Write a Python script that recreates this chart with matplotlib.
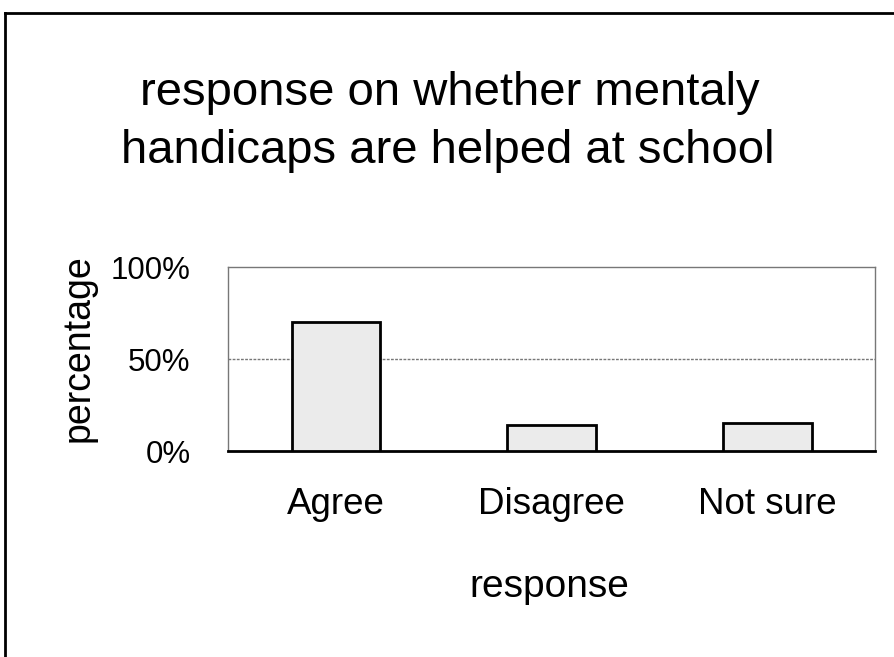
import matplotlib.pyplot as plt
from matplotlib.lines import Line2D
from matplotlib.ticker import PercentFormatter

plt.rcParams['font.family'] = ['Liberation Sans', 'DejaVu Sans']

# данные опроса
categories = ['Agree', 'Disagree', 'Not sure']
percent = [70, 14, 15]
y_ticks = [0, 50, 100]

fig = plt.figure(figsize=(8.94, 6.57), dpi=100)
ax = fig.add_axes([0.255, 0.3135, 0.724, 0.280])

x = range(len(categories))
ax.bar(x, percent, width=0.41, color='#ebebeb', edgecolor='black', linewidth=2, zorder=3)

ax.set_xlim(-0.5, len(categories) - 0.5)
ax.set_ylim(0, 100)
ax.set_yticks(y_ticks)
ax.yaxis.set_major_formatter(PercentFormatter(decimals=0))
ax.set_xticks(list(x))
ax.set_xticklabels(categories)
ax.tick_params(length=0)
ax.tick_params(axis='y', labelsize=22.5, pad=27)
ax.tick_params(axis='x', labelsize=26.5, pad=26)

# линия сетки на 50%
ax.axhline(50, color='#777777', linewidth=1, linestyle=(0, (2, 1)), zorder=1)

for side in ['top', 'right', 'left']:
    ax.spines[side].set_color('#777777')
    ax.spines[side].set_linewidth(1)
ax.spines['bottom'].set_linewidth(2)

ax.set_ylabel('percentage', fontsize=27)
ax.yaxis.set_label_coords(-0.2025, 0.56)
ax.set_xlabel('response', fontsize=28)
ax.xaxis.set_label_coords(0.496, -0.64)

fig.text(0.503, 0.840, 'response on whether mentaly', fontsize=34,
         ha='center', va='baseline')
fig.text(0.501, 0.752, 'handicaps are helped at school', fontsize=34,
         ha='center', va='baseline')

# рамка вокруг диаграммы
fig.add_artist(Line2D([0.006, 1.0], [0.980, 0.980], color='black', linewidth=2))
fig.add_artist(Line2D([0.006, 0.006], [0.0, 0.980], color='black', linewidth=2))

fig.savefig('out.png', dpi=100)
